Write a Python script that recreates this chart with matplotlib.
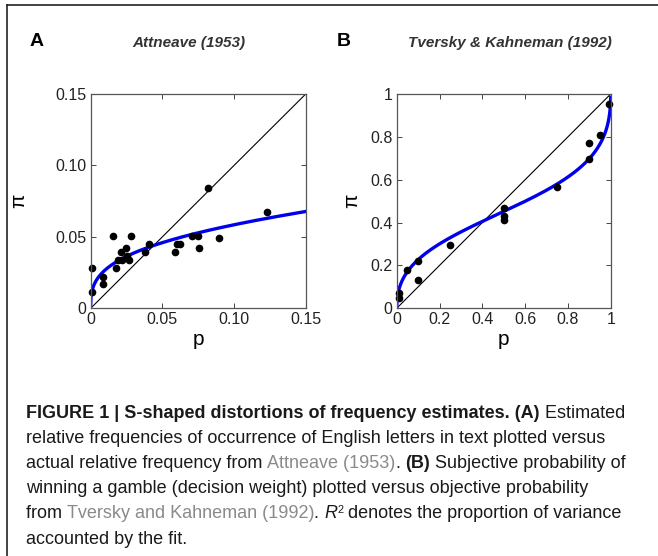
import matplotlib
matplotlib.use("Agg")
import matplotlib.pyplot as plt
from matplotlib import font_manager
from matplotlib.lines import Line2D
import numpy as np

# Attneave (1953): actual vs estimated relative letter frequency
att_p = [0.0012, 0.0012, 0.0084, 0.0088, 0.0158, 0.0177, 0.0193, 0.0214,
         0.0219, 0.0247, 0.0251, 0.0270, 0.0279, 0.0377, 0.0409, 0.0586,
         0.0602, 0.0623, 0.0705, 0.0749, 0.0753, 0.0816, 0.0895, 0.1228]
att_pi = [0.0280, 0.0112, 0.0222, 0.0170, 0.0506, 0.0280, 0.0338, 0.0394,
          0.0338, 0.0425, 0.0366, 0.0338, 0.0506, 0.0394, 0.0448, 0.0394,
          0.0448, 0.0448, 0.0506, 0.0506, 0.0425, 0.0842, 0.0495, 0.0672]
att_gamma = 0.34
att_p0 = 0.044

# Tversky & Kahneman (1992): objective probability vs decision weight
tk_p = [0.01, 0.01, 0.05, 0.10, 0.10, 0.25, 0.50, 0.50, 0.50,
        0.75, 0.90, 0.90, 0.95, 0.99]
tk_pi = [0.072, 0.050, 0.178, 0.222, 0.133, 0.297, 0.469, 0.430, 0.410,
         0.565, 0.771, 0.696, 0.807, 0.955]
tk_gamma = 0.47
tk_p0 = 0.41

att_ticks = [0, 0.05, 0.10, 0.15]
att_ticklabels = ["0", "0.05", "0.10", "0.15"]
tk_ticks = [0, 0.2, 0.4, 0.6, 0.8, 1.0]
tk_ticklabels = ["0", "0.2", "0.4", "0.6", "0.8", "1"]


def llo(p, gamma, p0):
    # linear in log odds: lo(pi) = gamma*lo(p) + (1-gamma)*lo(p0)
    lo = gamma * np.log(p / (1 - p)) + (1 - gamma) * np.log(p0 / (1 - p0))
    return 1.0 / (1.0 + np.exp(-lo))


avail = {f.name for f in font_manager.fontManager.ttflist}
sans = "Liberation Sans" if "Liberation Sans" in avail else "DejaVu Sans"
plt.rcParams['font.family'] = sans

fig = plt.figure(figsize=(6.58, 5.56), dpi=100)

# outer frame: top and left rules only
fig.add_artist(Line2D([7 / 658, 1], [1 - 5 / 556] * 2, color="#222222", lw=1.2))
fig.add_artist(Line2D([7 / 658] * 2, [0, 1 - 5 / 556], color="#222222", lw=1.2))


def panel(rect, xs, ys, gamma, p0, lim, ticks, ticklabels):
    ax = fig.add_axes(rect)
    ax.plot([0, lim], [0, lim], color="black", lw=0.8)
    grid = np.linspace(lim * 1e-4, lim * (1 - 1e-4) if lim == 1 else lim, 600)
    ax.plot(grid, llo(grid, gamma, p0), color="#0000ee", lw=2.4)
    ax.plot(xs, ys, "o", color="black", ms=4.5, clip_on=False)
    ax.set_xlim(0, lim)
    ax.set_ylim(0, lim)
    ax.set_xticks(ticks)
    ax.set_xticklabels(ticklabels)
    ax.set_yticks(ticks)
    ax.set_yticklabels(ticklabels)
    ax.tick_params(direction="in", top=True, right=True, length=3.5,
                   width=0.7, labelsize=11.5, pad=3, colors="#444444",
                   labelcolor="#222222")
    for s in ax.spines.values():
        s.set_color("#555555")
        s.set_linewidth(0.9)
    ax.set_xlabel("p", fontsize=15, labelpad=2)
    return ax


axA = panel([0.1378, 0.4455, 0.3268, 0.3854], att_p, att_pi, att_gamma,
            att_p0, 0.15, att_ticks, att_ticklabels)
axA.set_ylabel("π", fontsize=15)
axA.yaxis.set_label_coords(-0.29, 0.5)
axB = panel([0.6029, 0.4455, 0.3252, 0.3854], tk_p, tk_pi, tk_gamma,
            tk_p0, 1.0, tk_ticks, tk_ticklabels)
axB.set_ylabel("π", fontsize=15)
axB.yaxis.set_label_coords(-0.165, 0.5)

fig.text(30 / 658, 1 - 42 / 556, "A", fontsize=14, fontweight="bold", va="center")
fig.text(337 / 658, 1 - 42 / 556, "B", fontsize=14, fontweight="bold", va="center")
fig.text(189 / 658, 1 - 43 / 556, "Attneave (1953)", fontsize=11,
         fontweight="bold", style="italic", ha="center", va="center",
         color="#333333")
fig.text(510 / 658, 1 - 43 / 556, "Tversky & Kahneman (1992)", fontsize=11,
         fontweight="bold", style="italic", ha="center", va="center",
         color="#333333")

# caption, laid out segment by segment
ink = "#1a1a1a"
link = "#8a8a8a"
caption = [
    [("FIGURE 1 | S-shaped distortions of frequency estimates. (A)", "bold", ink),
     (" Estimated", "normal", ink)],
    [("relative frequencies of occurrence of English letters in text plotted versus", "normal", ink)],
    [("actual relative frequency from ", "normal", ink), ("Attneave (1953)", "normal", link),
     (". ", "normal", ink), ("(B)", "bold", ink), (" Subjective probability of", "normal", ink)],
    [("winning a gamble (decision weight) plotted versus objective probability", "normal", ink)],
    [("from ", "normal", ink), ("Tversky and Kahneman (1992)", "normal", link),
     (". ", "normal", ink), ("R", "italic", ink), ("2", "sup", ink),
     (" denotes the proportion of variance", "normal", ink)],
    [("accounted by the fit.", "normal", ink)],
]

renderer = fig.canvas.get_renderer()
cap_size = 13
for i, line in enumerate(caption):
    x = 26
    y = 556 - (413 + 25.2 * i)
    for txt, kind, col in line:
        kw = dict(fontsize=cap_size, color=col, va="center")
        yy = y
        if kind == "bold":
            kw["fontweight"] = "bold"
        elif kind == "italic":
            kw["style"] = "italic"
        elif kind == "sup":
            kw["fontsize"] = cap_size * 0.6
            yy = y + 4
        t = fig.text(x / 658, yy / 556, txt, **kw)
        bb = t.get_window_extent(renderer=renderer)
        x += bb.width

fig.savefig("out.png", dpi=100)
